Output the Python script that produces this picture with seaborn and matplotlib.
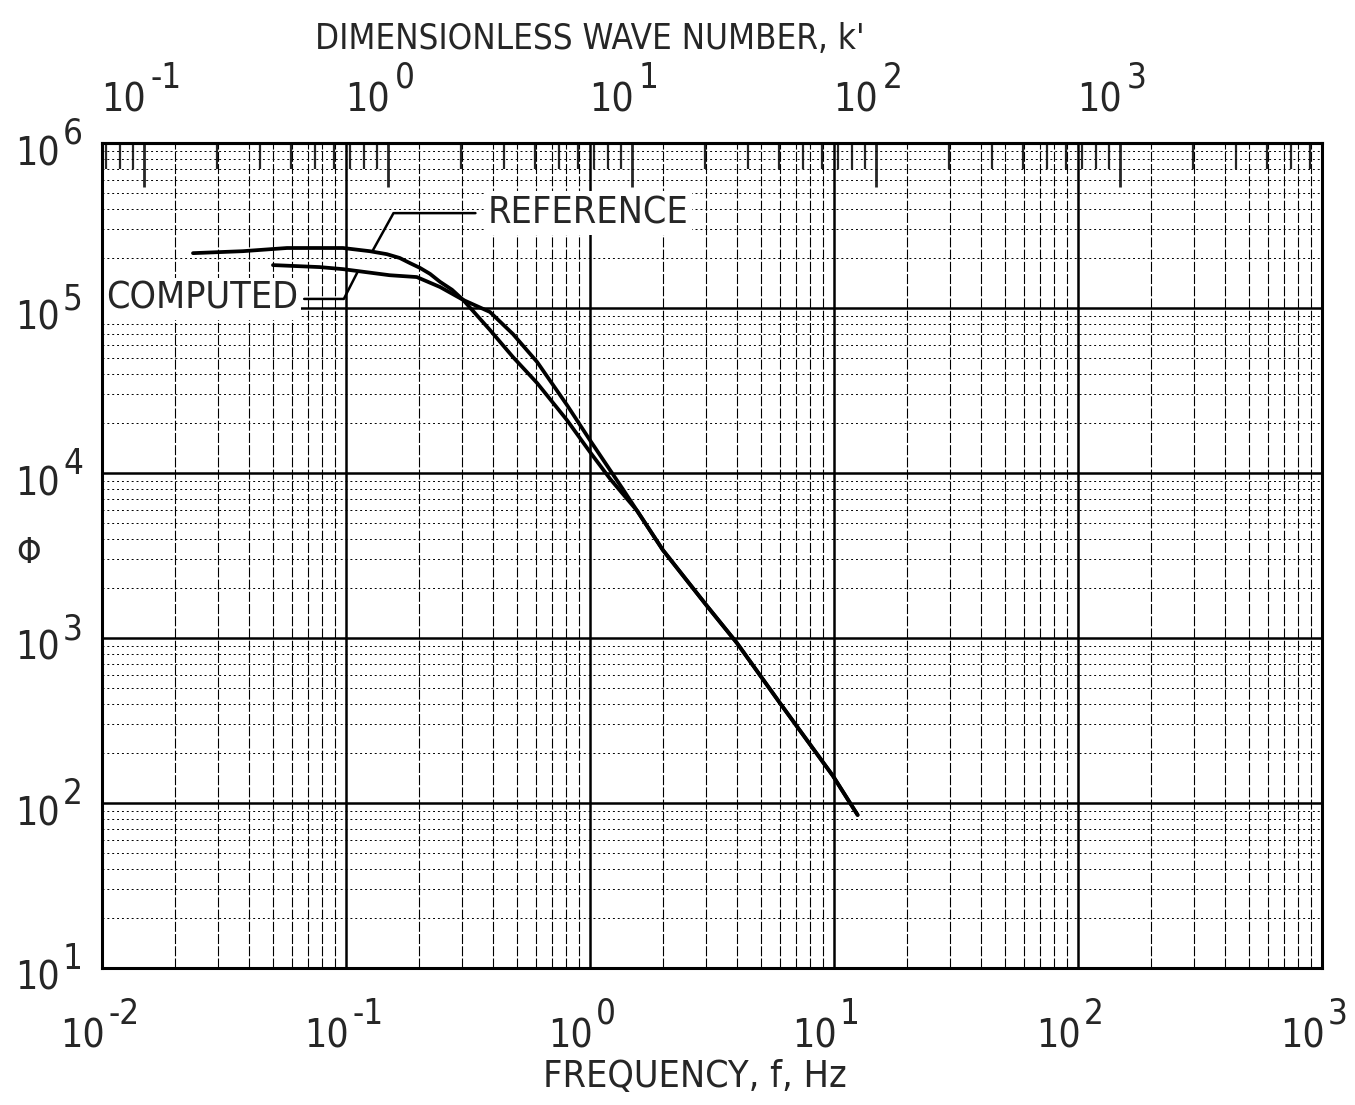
import numpy as np
import pandas as pd
import matplotlib
matplotlib.use("Agg")
import matplotlib.pyplot as plt
import seaborn as sns
from matplotlib.ticker import LogLocator, NullFormatter

# ---- data ----
ref_f = [0.0236, 0.0378, 0.0573, 0.0972, 0.125, 0.147, 0.166, 0.183, 0.201,
         0.221, 0.243, 0.272, 0.302, 0.389, 0.483, 0.607, 0.805, 1.0, 1.21,
         1.56, 1.99, 3.02, 4.0, 6.0, 9.9, 12.5]
ref_phi = [2.15e5, 2.21e5, 2.31e5, 2.31e5, 2.21e5, 2.12e5, 2.01e5, 1.87e5, 1.75e5,
           1.61e5, 1.44e5, 1.29e5, 1.12e5, 7.36e4, 5.05e4, 3.51e4, 2.09e4, 1.34e4, 9.2e3,
           5.9e3, 3.41e3, 1.56e3, 933, 404, 146, 84.6]

comp_f = [0.0502, 0.078, 0.0972, 0.151, 0.195, 0.243, 0.302, 0.389, 0.483,
          0.607, 0.805, 1.0, 1.37, 1.99, 3.02, 4.0, 6.0, 9.9, 12.5]
comp_phi = [1.82e5, 1.77e5, 1.72e5, 1.58e5, 1.54e5, 1.34e5, 1.12e5, 9.46e4, 6.96e4,
            4.71e4, 2.58e4, 1.58e4, 7.9e3, 3.41e3, 1.56e3, 933, 404, 146, 84.6]

x_ticks = [1e-2, 1e-1, 1e0, 1e1, 1e2, 1e3]
y_ticks = [1e1, 1e2, 1e3, 1e4, 1e5, 1e6]
k_ticks = [1e-1, 1e0, 1e1, 1e2, 1e3]
k_per_hz = 6.73  # k' = k_per_hz * f

df = pd.concat([
    pd.DataFrame({"f": ref_f, "phi": ref_phi, "curve": "REFERENCE"}),
    pd.DataFrame({"f": comp_f, "phi": comp_phi, "curve": "COMPUTED"}),
])

# ---- style ----
sns.set_style("white")
plt.rcParams["font.family"] = ["DejaVu Sans"]
plt.rcParams["font.stretch"] = "condensed"
plt.rcParams["axes.unicode_minus"] = False

fig = plt.figure(figsize=(13.55, 11.05), dpi=100)
ax = fig.add_axes([102 / 1355, 1 - 968 / 1105, 1220 / 1355, 825 / 1105])

sns.lineplot(data=df, x="f", y="phi", hue="curve",
             palette={"REFERENCE": "black", "COMPUTED": "black"},
             estimator=None, sort=False, legend=False, lw=2.7, ax=ax, zorder=3)

ax.set_xscale("log")
ax.set_yscale("log")
ax.set_xlim(x_ticks[0], x_ticks[-1])
ax.set_ylim(y_ticks[0], y_ticks[-1])
ax.set_xticks(x_ticks)
ax.set_yticks(y_ticks)
ax.xaxis.set_minor_locator(LogLocator(base=10, subs=np.arange(2, 10), numticks=100))
ax.yaxis.set_minor_locator(LogLocator(base=10, subs=np.arange(2, 10), numticks=100))
ax.xaxis.set_minor_formatter(NullFormatter())
ax.yaxis.set_minor_formatter(NullFormatter())
ax.tick_params(which="both", length=0, labelbottom=False, labelleft=False)

# graph-paper grid
ax.set_axisbelow(True)
ax.grid(which="major", axis="both", color="black", lw=1.8, ls="-")
ax.grid(which="minor", axis="x", color="black", lw=0.8, ls=(0, (9, 2)))
ax.grid(which="minor", axis="y", color="black", lw=0.7, ls=(0, (2, 3)))
for s in ax.spines.values():
    s.set_color("black")
    s.set_linewidth(2.2)
    s.set_zorder(5)

# top axis: dimensionless wave number
secax = ax.secondary_xaxis("top", functions=(lambda f: f * k_per_hz, lambda k: k / k_per_hz))
secax.set_xticks(k_ticks)
secax.xaxis.set_major_formatter(NullFormatter())
secax.xaxis.set_minor_formatter(NullFormatter())
secax.tick_params(which="major", direction="in", length=32, width=2)
secax.tick_params(which="minor", direction="in", length=19, width=1.6)
secax.spines["top"].set_linewidth(2.2)


def pow_label(xy, coords, base_off, exp_off, exponent):
    ax.annotate("10", xy=xy, xycoords=coords, xytext=base_off,
                textcoords="offset pixels", ha="right", va="baseline",
                fontsize=28, annotation_clip=False, zorder=6)
    ax.annotate(exponent, xy=xy, xycoords=coords, xytext=exp_off,
                textcoords="offset pixels", ha="left", va="baseline",
                fontsize=25, annotation_clip=False, zorder=6)


for v in x_ticks:
    pow_label((v, 0), ("data", "axes fraction"), (3, -79), (6, -56), str(int(np.log10(v))))
for v in y_ticks:
    pow_label((0, v), ("axes fraction", "data"), (-42, -22), (-39, -1), str(int(np.log10(v))))
for k in k_ticks:
    pow_label((k / k_per_hz, 1), ("data", "axes fraction"), (2, 31), (7, 55), str(int(np.log10(k))))

# axis titles
ax.set_xlabel("FREQUENCY, f, Hz", fontsize=27, va="baseline")
ax.xaxis.set_label_coords(0.486, -0.144)
ax.set_ylabel("Φ", fontsize=25, rotation=0, va="center", ha="center")
ax.yaxis.set_label_coords(-0.06, 0.503)
ax.text(0.40, 1 + 94 / 825, "DIMENSIONLESS WAVE NUMBER, k'", transform=ax.transAxes,
        ha="center", va="baseline", fontsize=25)

# curve labels with leaders
ref_tx = 0.128
ref_ty = 10 ** np.interp(np.log10(ref_tx), np.log10(ref_f), np.log10(ref_phi))
ax.annotate("REFERENCE", xy=(ref_tx, ref_ty), xycoords="data",
            xytext=(0.316, 0.915), textcoords="axes fraction",
            ha="left", va="center", fontsize=27, zorder=4,
            bbox=dict(boxstyle="square,pad=0.1", fc="white", ec="none"),
            arrowprops=dict(arrowstyle="-", color="black", lw=1.8,
                            connectionstyle="angle,angleA=0,angleB=61,rad=0",
                            shrinkA=6, shrinkB=0))

comp_tx = 0.112
comp_ty = 10 ** np.interp(np.log10(comp_tx), np.log10(comp_f), np.log10(comp_phi))
ax.annotate("COMPUTED", xy=(comp_tx, comp_ty), xycoords="data",
            xytext=(0.161, 0.811), textcoords="axes fraction",
            ha="right", va="center", fontsize=27, zorder=4,
            bbox=dict(boxstyle="square,pad=0.08", fc="white", ec="none"),
            arrowprops=dict(arrowstyle="-", color="black", lw=1.8,
                            connectionstyle="angle,angleA=0,angleB=63,rad=0",
                            shrinkA=2, shrinkB=0))

fig.savefig("out.png", dpi=100)
